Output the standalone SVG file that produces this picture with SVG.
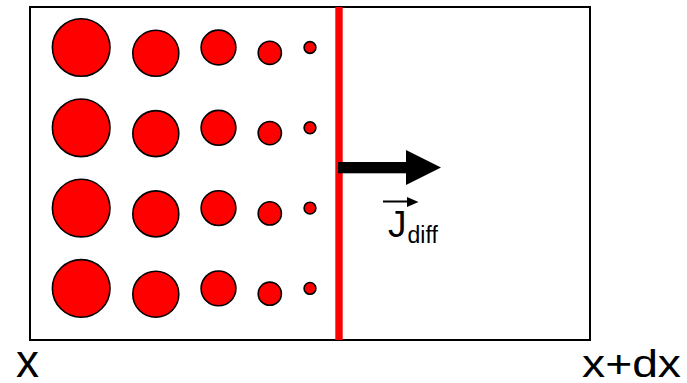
<svg xmlns="http://www.w3.org/2000/svg" width="687" height="383" viewBox="0 0 687 383">
  <style>
    .frame { fill: #ffffff; stroke: #000000; stroke-width: 2; }
    .p { fill: #ff0000; stroke: #000000; stroke-width: 1.6; }
    .lbl { font-family: "Liberation Sans", Arial, sans-serif; fill: #000000; }
  </style>
  <defs>
    <!-- one row of particles, shrinking towards the interface -->
    <g id="row">
      <circle class="p" cx="81.2" cy="0" r="28.8"/>
      <circle class="p" cx="155.8" cy="5.8" r="23"/>
      <circle class="p" cx="218.5" cy="0" r="17.4"/>
      <circle class="p" cx="269.8" cy="5.3" r="11.6"/>
      <circle class="p" cx="310" cy="0" r="5.9"/>
    </g>
  </defs>

  <!-- control volume -->
  <rect class="frame" x="30" y="7" width="560" height="333"/>

  <!-- particles -->
  <g id="particles">
    <use href="#row" y="47.5"/>
    <use href="#row" y="127.8"/>
    <use href="#row" y="208.1"/>
    <use href="#row" y="288.4"/>
  </g>

  <!-- interface -->
  <rect id="interface" x="335.3" y="7" width="7.4" height="333" fill="#ff0000"/>

  <!-- diffusion flux -->
  <g id="flux">
    <rect x="338" y="162" width="69" height="11.3" fill="#000000"/>
    <polygon points="406,150 441,167.5 406,185" fill="#000000"/>
    <line x1="383" y1="201.5" x2="409" y2="201.5" stroke="#000000" stroke-width="2"/>
    <polygon points="407,197 418.5,202 407,207" fill="#000000"/>
    <text class="lbl" x="388" y="237" font-size="37">J</text>
    <text class="lbl" x="407.5" y="243" font-size="23">diff</text>
  </g>

  <!-- axis labels -->
  <text class="lbl" x="16" y="377" font-size="46">x</text>
  <text class="lbl" x="582" y="377" font-size="39" textLength="99" lengthAdjust="spacingAndGlyphs">x+dx</text>
</svg>
